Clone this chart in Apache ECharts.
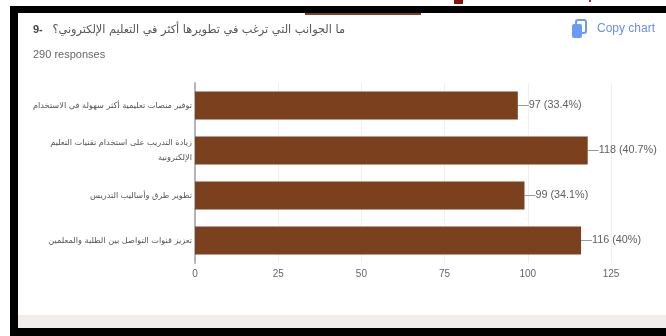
<!DOCTYPE html>
<html>
<head>
<meta charset="utf-8">
<style>html,body{margin:0;padding:0;background:#fff}#chart{width:666px;height:336px}</style>
<script src="https://cdn.jsdelivr.net/npm/echarts@6/dist/echarts.min.js"></script>
</head>
<body>
<div id="chart"></div>
<script>
// Survey question, response count and answers
const questionText = 'ما الجوانب التي ترغب في تطويرها أكثر في التعليم الإلكتروني؟';
const questionNumber = '9-';
const responsesText = '290 responses';
const categories = [
  'توفير منصات تعليمية أكثر سهولة في الاستخدام',
  'زيادة التدريب على استخدام تقنيات التعليم\nالإلكترونية',
  'تطوير طرق وأساليب التدريس',
  'تعزيز قنوات التواصل بين الطلبة والمعلمين'
];
const counts = [97, 118, 99, 116];
const percents = ['33.4%', '40.7%', '34.1%', '40%'];
const axisTicks = [0, 25, 50, 75, 100, 125];

const arabicFont = '"DejaVu Sans", "Noto Sans", sans-serif';
const latinFont = '"Liberation Sans", Arial, sans-serif';
const ink = '#5f5f5f';

const chart = echarts.init(document.getElementById('chart'), null, { renderer: 'canvas' });
chart.setOption({
  animation: false,
  backgroundColor: '#ffffff',
  grid: { left: 195, top: 83, width: 416, height: 180, containLabel: false },
  xAxis: {
    type: 'value',
    min: axisTicks[0],
    max: axisTicks[axisTicks.length - 1],
    interval: 25,
    axisLine: { show: false },
    axisTick: { show: false },
    axisLabel: { color: '#666', fontFamily: latinFont, fontSize: 10, margin: 6 },
    splitLine: { lineStyle: { color: '#efefef', width: 1 } }
  },
  yAxis: {
    type: 'category',
    inverse: true,
    data: categories,
    axisLine: { show: true, onZero: false, lineStyle: { color: '#b5b5b5', width: 2 } },
    axisTick: { show: false },
    axisLabel: { color: '#555', fontFamily: arabicFont, fontSize: 8.2, margin: 3, align: 'right', lineHeight: 15 }
  },
  series: [{
    type: 'bar',
    data: counts,
    barWidth: 28,
    itemStyle: { color: '#7b401d' },
    label: {
      show: true,
      position: 'right',
      distance: 0,
      color: ink,
      fontFamily: latinFont,
      fontSize: 10.8,
      formatter: p => counts[p.dataIndex] + ' (' + percents[p.dataIndex] + ')'
    },
    labelLayout: { dx: 11 },
    labelLine: { show: true, lineStyle: { color: '#999', width: 1 } }
  }],
  graphic: [
    // Black frame around the screenshot card
    { type: 'rect', shape: { x: 10, y: 6, width: 656, height: 7 }, style: { fill: '#000' } },
    { type: 'rect', shape: { x: 10, y: 6, width: 8, height: 330 }, style: { fill: '#000' } },
    { type: 'rect', shape: { x: 10, y: 328, width: 656, height: 8 }, style: { fill: '#000' } },
    { type: 'rect', shape: { x: 18, y: 315, width: 648, height: 13 }, style: { fill: '#f1edea' } },
    { type: 'rect', shape: { x: 305, y: 13, width: 116, height: 2 }, style: { fill: '#7b401d' } },
    // Stray red marks above the frame
    { type: 'rect', shape: { x: 454, y: 0, width: 9, height: 4 }, style: { fill: '#8a1010' } },
    { type: 'rect', shape: { x: 589, y: 0, width: 2, height: 2 }, style: { fill: '#a03030' } },
    // Heading
    { type: 'text', style: { x: 345, y: 30, text: questionText, align: 'right', verticalAlign: 'middle',
        fill: '#555', font: '11.3px ' + arabicFont } },
    { type: 'text', style: { x: 33, y: 30, text: questionNumber, align: 'left', verticalAlign: 'middle',
        fill: '#444', font: 'bold 11px ' + latinFont } },
    { type: 'text', style: { x: 33, y: 55, text: responsesText, align: 'left', verticalAlign: 'middle',
        fill: '#666', font: '11px ' + latinFont } },
    // Copy chart button
    { type: 'rect', shape: { x: 576, y: 20, width: 10, height: 13, r: 2 }, style: { fill: 'none', stroke: '#6a9cf5', lineWidth: 2 } },
    { type: 'rect', shape: { x: 572, y: 24, width: 10, height: 14, r: 2 }, style: { fill: '#6a9cf5' } },
    { type: 'text', style: { x: 597, y: 29, text: 'Copy chart', align: 'left', verticalAlign: 'middle',
        fill: '#6a8fe8', font: '12px ' + latinFont } }
  ]
});
</script>
</body>
</html>
